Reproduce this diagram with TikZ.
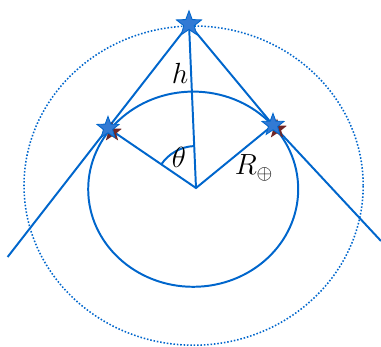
\documentclass[tikz,border=0pt]{standalone}
\usepackage{amsmath,amssymb}
\usepackage{xcolor}
\usepackage{tikz}
\usetikzlibrary{calc,shapes.geometric}
\definecolor{orbit}{RGB}{0, 102, 204}
\definecolor{starfill}{RGB}{50, 122, 212}
\definecolor{shadow}{RGB}{112, 38, 38}

\begin{document}
\begin{tikzpicture}[line width=1.4pt, orbit,
  sat/.style={star, star points=5, star point ratio=2.4, draw=orbit, line width=0.6pt,
    fill=starfill, inner sep=0pt, minimum size=#1},
  ghost/.style={star, star points=5, star point ratio=2.4, fill=shadow, draw=none,
    inner sep=0pt, minimum size=#1}]
  \useasboundingbox (-4.9,-3.95) rectangle (4.625,4.7);

  % Earth and orbit
  \draw (-0.07,-0.03) ellipse (2.625 and 2.44);
  \draw[line width=1.1pt, dash pattern=on 1.1pt off 1.3pt] (-0.06,0.06) ellipse (4.24 and 3.99);

  % Points
  \coordinate (O) at (0,0);
  \coordinate (Lend) at (-4.71,-1.725);
  \coordinate (Rend) at (4.625,-1.325);

  % Lines of sight and radii
  \draw (-0.175,4.1) coordinate (S) -- (-2.2,1.5) coordinate (L) -- (Lend);
  \draw (S) -- (1.925,1.575) coordinate (R) -- (Rend);
  \draw (S) -- (O);
  \draw (L) -- (O) -- (R);
  \draw ($(O)+(145.7:1.05)$) arc[start angle=145.7, end angle=92.4, radius=1.05];

  % Stars
  \node[ghost=0.52cm] (Lg) at ($(L)+(0.1,-0.1)$) {};
  \node[ghost=0.52cm] (Rg) at ($(R)+(0.1,-0.1)$) {};
  \node[sat=0.58cm] (Ls) at (L) {};
  \node[sat=0.58cm] (Rs) at (R) {};
  \node[sat=0.66cm] (Ss) at (S) {};

  % Labels
  \node[black, font=\huge] (hlab) at (-0.4,2.875) {$h$};
  \node[black, font=\huge] (thlab) at (-0.425,0.775) {$\theta$};
  \node[black, font=\huge] (Rlab) at (1.45,0.5) {$R_{\oplus}$};
\end{tikzpicture}
\end{document}
